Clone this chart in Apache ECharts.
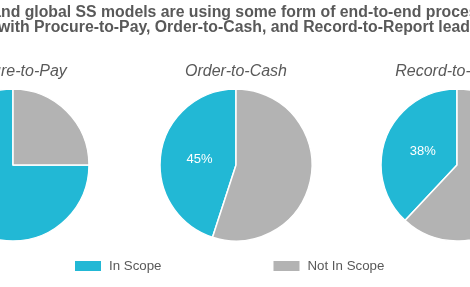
<!DOCTYPE html>
<html>
<head>
<meta charset="utf-8">
<script src="https://cdn.jsdelivr.net/npm/echarts@6/dist/echarts.min.js"></script>
<style>
html,body{margin:0;padding:0;background:#fff;overflow:hidden;}
#c{width:470px;height:287px;}
</style>
</head>
<body>
<div id="c"></div>
<script>
const categories = ['In Scope', 'Not In Scope'];
const processes = ['Procure-to-Pay', 'Order-to-Cash', 'Record-to-Report'];
const inScope = [75, 45, 38];
const notInScope = [25, 55, 62];
const titleLines = [
  'and global SS models are using some form of end-to-end process',
  'with Procure-to-Pay, Order-to-Cash, and Record-to-Report leading'
];

const colors = ['#22B8D5', '#B3B3B3'];
const centersX = [13, 236, 457];
const cy = 165;
const R = 76;
const labelPull = 0.9;

const chart = echarts.init(document.getElementById('c'), null, {renderer: 'canvas'});

const series = processes.map((p, i) => ({
  type: 'pie',
  name: p,
  center: [centersX[i], cy],
  radius: R,
  startAngle: 90,
  clockwise: false,
  silent: true,
  animation: false,
  itemStyle: {borderColor: '#fff', borderWidth: 1.5},
  label: {show: false},
  labelLine: {show: false},
  emphasis: {disabled: true},
  labelLayout: function (params) {
    const r = params.labelRect;
    const lx = r.x + r.width / 2, ly = r.y + r.height / 2;
    const cx = centersX[i];
    return {x: cx + (lx - cx) * labelPull, y: cy + (ly - cy) * labelPull};
  },
  data: [
    {name: categories[0], value: inScope[i], itemStyle: {color: colors[0]},
     label: {show: true, position: 'inside', formatter: '{c}%', color: '#fff',
             align: 'center', verticalAlign: 'middle',
             fontSize: 13, fontFamily: 'Liberation Sans, Arial, sans-serif'}},
    {name: categories[1], value: notInScope[i], itemStyle: {color: colors[1]}}
  ]
}));

const titleFont = 'bold 15.8px "Liberation Sans", Arial, sans-serif';
const graphics = [
  {type: 'text', x: -7.8, y: 12.5, style: {text: titleLines[0], font: titleFont, fill: '#595959', align: 'left', verticalAlign: 'middle'}},
  {type: 'text', x: -2, y: 27.5, style: {text: titleLines[1], font: titleFont, fill: '#595959', align: 'left', verticalAlign: 'middle'}}
].concat(processes.map((p, i) => ({
  type: 'text', x: centersX[i], y: 72,
  style: {text: p, font: 'italic 16px "Liberation Sans", Arial, sans-serif', fill: '#595959', align: 'center', verticalAlign: 'middle'}
})));

chart.setOption({
  animation: false,
  color: colors,
  legend: {
    data: categories,
    left: 68,
    top: 254,
    itemWidth: 28,
    itemHeight: 12,
    itemGap: 110,
    icon: 'rect',
    selectedMode: false,
    textStyle: {color: '#595959', fontSize: 13.3, fontFamily: 'Liberation Sans, Arial, sans-serif', padding: [0, 0, 0, 2]}
  },
  graphic: graphics,
  series: series
});
</script>
</body>
</html>
